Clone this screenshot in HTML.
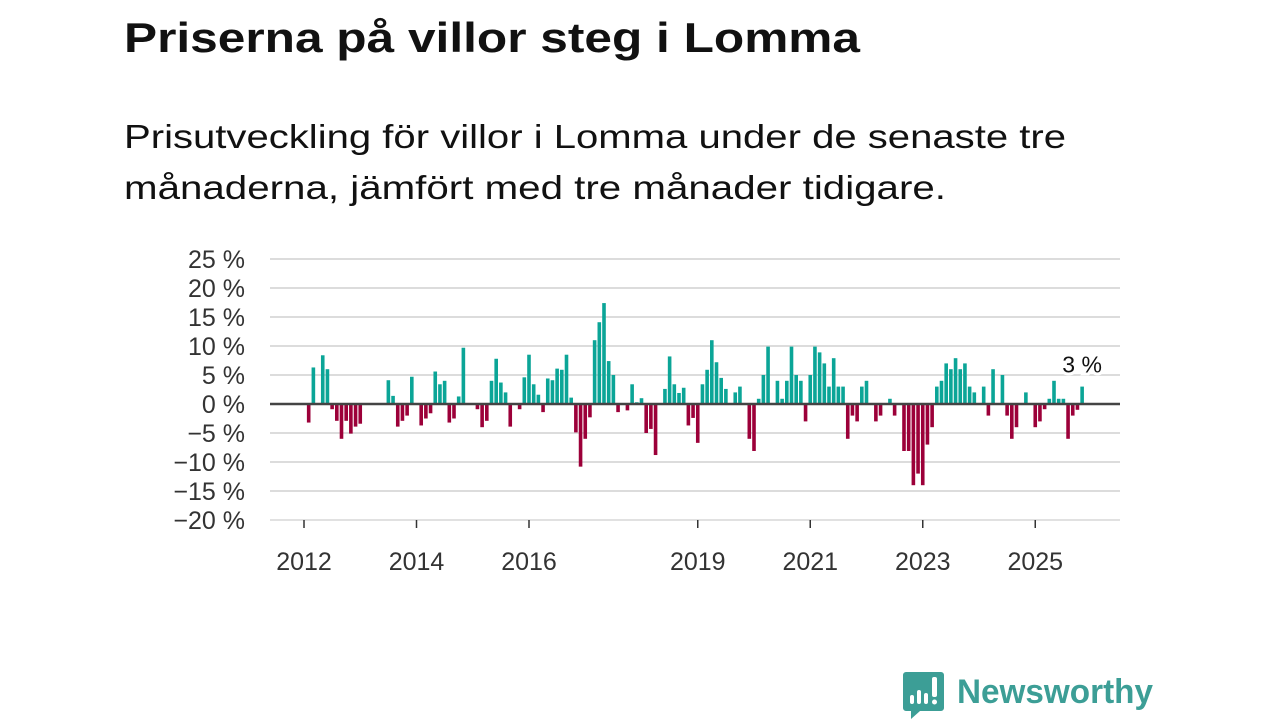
<!DOCTYPE html>
<html><head><meta charset="utf-8"><style>
html,body{margin:0;padding:0;background:#fff;width:1280px;height:720px;overflow:hidden}
svg{display:block}
text{font-family:"Liberation Sans",sans-serif}
</style></head><body>
<svg id="chart" width="1280" height="720" viewBox="0 0 1280 720">
<text x="124" y="52" font-size="42" font-weight="bold" fill="#111" textLength="736" lengthAdjust="spacingAndGlyphs">Priserna på villor steg i Lomma</text>
<text x="124" y="148" font-size="33" fill="#111" textLength="942" lengthAdjust="spacingAndGlyphs">Prisutveckling för villor i Lomma under de senaste tre</text>
<text x="124" y="199" font-size="33" fill="#111" textLength="822" lengthAdjust="spacingAndGlyphs">månaderna, jämfört med tre månader tidigare.</text>
<g id="grid"></g>
<g id="yaxis"></g>
<g id="xaxis"></g>
<g id="bars"></g>
<line id="zero" x1="270" x2="1120" y1="404" y2="404" stroke="#444" stroke-width="2.5"/>
<g id="labels"></g>
<g>
<path d="M906 672 h35 a3 3 0 0 1 3 3 v33 a3 3 0 0 1 -3 3 h-21 l-9 8 v-8 h-5 a3 3 0 0 1 -3 -3 v-33 a3 3 0 0 1 3 -3z" fill="#3c9e96"/>
<rect x="910" y="695" width="4" height="9" rx="2" fill="#fff"/>
<rect x="917" y="690" width="4" height="14" rx="2" fill="#fff"/>
<rect x="924" y="693" width="4" height="11" rx="2" fill="#fff"/>
<rect x="932" y="677" width="5" height="20" rx="2" fill="#fff"/>
<circle cx="934.5" cy="702" r="2.5" fill="#fff"/>
<text x="957" y="703" font-size="34" font-weight="bold" fill="#3c9e96" textLength="196" lengthAdjust="spacingAndGlyphs">Newsworthy</text>
</g>
</svg>
<script>
const yTicks=[25,20,15,10,5,0,-5,-10,-15,-20];
const xTickYears=[2012,2014,2016,2019,2021,2023,2025];
const monthIndex=[1,2,4,5,6,7,8,9,10,11,12,18,19,20,21,22,23,25,26,27,28,29,30,31,32,33,34,37,38,39,40,41,42,43,44,46,47,48,49,50,51,52,53,54,55,56,57,58,59,60,61,62,63,64,65,66,67,69,70,71,72,73,74,75,77,78,79,80,81,82,83,84,85,86,87,88,89,90,92,93,95,96,97,98,99,101,102,103,104,105,106,107,108,109,110,111,112,113,114,115,116,117,118,119,120,122,123,125,126,128,129,130,131,132,133,134,135,136,137,138,139,140,141,142,143,145,146,147,149,150,151,152,154,156,157,158,159,160,161,162,163,164,165,166];
const changePct=[-3.2,6.3,8.4,6.0,-0.9,-2.9,-6.0,-2.9,-5.1,-3.9,-3.4,4.1,1.4,-3.9,-2.9,-2.0,4.7,-3.7,-2.5,-1.6,5.6,3.4,4.0,-3.2,-2.5,1.3,9.7,-0.9,-4.0,-2.9,4.0,7.8,3.7,2.0,-3.9,-0.9,4.6,8.5,3.4,1.6,-1.4,4.4,4.1,6.1,5.9,8.5,1.1,-4.9,-10.8,-6.0,-2.3,11.0,14.1,17.4,7.4,5.0,-1.4,-1.1,3.4,0.3,1.0,-5.0,-4.3,-8.8,2.6,8.2,3.4,1.9,2.8,-3.7,-2.4,-6.7,3.4,5.9,11.0,7.2,4.5,2.6,2.0,3.0,-6.0,-8.1,0.9,5.0,9.9,4.0,0.9,4.0,9.9,5.0,4.0,-3.0,5.0,9.9,8.9,7.0,3.0,7.9,3.0,3.0,-6.0,-2.0,-3.0,3.0,4.0,-3.0,-2.0,0.9,-2.0,-8.1,-8.1,-14.0,-12.0,-14.0,-7.0,-4.0,3.0,4.0,7.0,6.0,7.9,6.0,7.0,3.0,2.0,3.0,-2.0,6.0,5.0,-2.0,-6.0,-4.0,2.0,-4.0,-3.0,-0.9,0.9,4.0,0.9,0.9,-6.0,-2.0,-1.0,3.0];
const lastLabel=["3 %"];
const NS="http://www.w3.org/2000/svg";
const Y=v=>404-v*5.8;
const X=i=>304+i*4.6875;
function mk(tag,attrs){const e=document.createElementNS(NS,tag);for(const k in attrs)e.setAttribute(k,attrs[k]);return e;}
const grid=document.getElementById('grid'),ya=document.getElementById('yaxis'),xa=document.getElementById('xaxis'),bars=document.getElementById('bars'),labels=document.getElementById('labels');
yTicks.forEach(v=>{
  const l=mk('line',{x1:270,x2:1120,y1:Y(v),y2:Y(v),stroke:'#dcdcdc','stroke-width':2});
  
  
  grid.appendChild(l);
  const t=mk('text',{x:245,y:Y(v)+9,'font-size':25,'text-anchor':'end',fill:'#333'});
  t.textContent=(v<0?'\u2212'+(-v):v)+' %';
  
  
  ya.appendChild(t);
});
const base=mk('line',{x1:270,x2:1120,y1:Y(-20),y2:Y(-20),stroke:'#e6e6e6','stroke-width':1});


xa.appendChild(base);
xTickYears.forEach(yr=>{
  const x=X((yr-2012)*12);
  const tk=mk('line',{x1:x,x2:x,y1:520,y2:528,stroke:'#333','stroke-width':1.5});
  
  
  xa.appendChild(tk);
  const t=mk('text',{x:x,y:570,'font-size':25,'text-anchor':'middle',fill:'#333'});
  t.textContent=yr;
  
  
  xa.appendChild(t);
});
monthIndex.forEach((m,k)=>{
  const v=changePct[k],x=X(m),y0=Y(0),y1=Y(v);
  const r=mk('rect',{x:x-1.8,y:Math.min(y0,y1),width:3.6,height:Math.abs(y1-y0),fill:v>=0?'#0ba597':'#9c0039'});
  
  
  bars.appendChild(r);
});
const lm=monthIndex[monthIndex.length-1],lv=changePct[changePct.length-1];
const lt=mk('text',{x:X(lm),y:Y(lv)-14,'font-size':23,'text-anchor':'middle',fill:'#111',stroke:'#fff','stroke-width':6,'paint-order':'stroke'});
lt.textContent=lastLabel[0];


labels.appendChild(lt);
</script>
</body></html>
